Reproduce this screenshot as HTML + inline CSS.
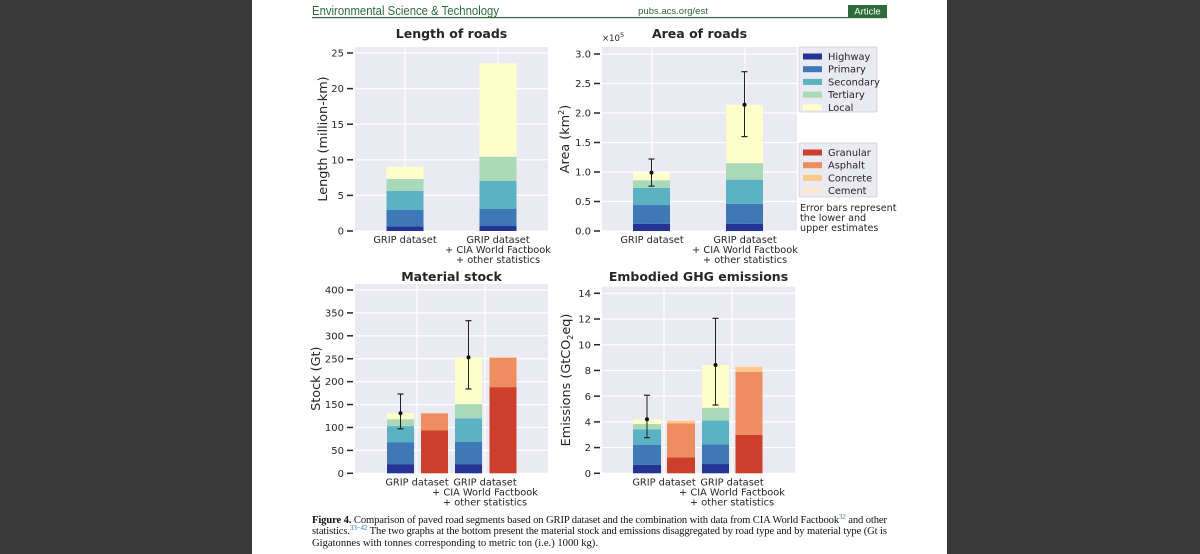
<!DOCTYPE html>
<html><head><meta charset="utf-8">
<style>
html,body{margin:0;padding:0;background:#383838;}
body{width:1200px;height:554px;overflow:hidden;position:relative;}
svg{position:absolute;left:0;top:0;}
text{font-family:"DejaVu Sans","Liberation Sans",sans-serif;fill:#262626;}
.cap{font-family:"Liberation Serif",serif;fill:#111;font-size:10.6px;}
</style></head>
<body>
<svg id="fig" width="1200" height="554" viewBox="0 0 1200 554">
<rect x="252" y="0" width="695" height="554" fill="#ffffff"/>
<text x="312" y="15" font-size="13" textLength="187" lengthAdjust="spacingAndGlyphs" style="fill:#2e6b3a;font-family:'Liberation Sans',sans-serif;font-weight:500">Environmental Science &amp; Technology</text>
<text x="673" y="14" font-size="9.5" text-anchor="middle" style="fill:#2e6b3a;font-family:'Liberation Sans',sans-serif">pubs.acs.org/est</text>
<rect x="312" y="17" width="575" height="1.2" fill="#2e6b3a"/>
<rect x="848" y="5" width="39" height="12" fill="#2e6b3a"/>
<text x="867.5" y="14.5" font-size="9.5" text-anchor="middle" style="fill:#fff;font-family:'Liberation Sans',sans-serif">Article</text>
<g id="charts"></g>
<text class="cap" x="312" y="523" textLength="575" lengthAdjust="spacing"><tspan font-weight="bold">Figure 4.</tspan> Comparison of paved road segments based on GRIP dataset and the combination with data from CIA World Factbook<tspan font-size="7" dy="-4" style="fill:#3a6fb0">32</tspan><tspan dy="4"> and other</tspan></text>
<text class="cap" x="312" y="534" textLength="575" lengthAdjust="spacing">statistics.<tspan font-size="7" dy="-4" style="fill:#3a6fb0">33−42</tspan><tspan dy="4"> The two graphs at the bottom present the material stock and emissions disaggregated by road type and by material type (Gt is</tspan></text>
<text class="cap" x="312" y="546">Gigatonnes with tonnes corresponding to metric ton (i.e.) 1000 kg).</text>
</svg>
<script>
// ---- data ----
const roadTypes = ['Highway','Primary','Secondary','Tertiary','Local'];
const materials = ['Granular','Asphalt','Concrete','Cement'];
const datasets = ['GRIP dataset','GRIP dataset\n+ CIA World Factbook\n+ other statistics'];
const lengthGrip = [0.65, 2.3, 2.7, 1.65, 1.73];
const lengthCia  = [0.7, 2.39, 3.93, 3.41, 13.12];
const areaGrip = [0.12, 0.32, 0.29, 0.13, 0.13];
const areaCia  = [0.12, 0.34, 0.41, 0.28, 0.99];
const areaErrLow  = [0.76, 1.60];
const areaErrHigh = [1.22, 2.70];
const stockTypeGrip = [20, 48, 35, 15, 13];
const stockTypeCia  = [20, 49, 51, 31, 102];
const stockMatGrip = [94, 37, 0.5, 0.2];
const stockMatCia  = [188, 64, 1.5, 0.3];
const stockErrLow  = [97, 184];
const stockErrHigh = [173, 333];
const ghgTypeGrip = [0.65, 1.55, 1.22, 0.41, 0.37];
const ghgTypeCia  = [0.72, 1.53, 1.85, 1.0, 3.32];
const ghgMatGrip = [1.24, 2.64, 0.21, 0.02];
const ghgMatCia  = [2.98, 4.92, 0.39, 0.03];
const ghgErrLow  = [2.77, 5.31];
const ghgErrHigh = [6.07, 12.05];
const lengthTicks = [0,5,10,15,20,25];
const areaTicks = ['0.0','0.5','1.0','1.5','2.0','2.5','3.0'];
const stockTicks = [0,50,100,150,200,250,300,350,400];
const ghgTicks = [0,2,4,6,8,10,12,14];

const typeColors = ['#253494','#3f78b6','#5bb2c3','#a9d9b8','#ffffcc'];
const matColors = ['#cc3f2c','#ee8d5f','#fcc98b','#fde8d0'];
const NS = 'http://www.w3.org/2000/svg';
const root = document.getElementById('charts');
function mk(tag, attrs, parent){const e=document.createElementNS(NS,tag);for(const k in attrs)e.setAttribute(k,attrs[k]);(parent||root).appendChild(e);return e;}

function chart(o){
  const g = mk('g',{});
  
  
  const y = v => o.y0 - (v - 0) * o.scale;
  const bg = mk('rect',{x:o.x0,y:o.top,width:o.x1-o.x0,height:o.y0-o.top,fill:'#eaeaf2'},g);
  
  
  o.ticks.forEach(t=>{
    const v = parseFloat(t); const yy = y(v);
    if (yy > o.top+1) mk('line',{x1:o.x0,x2:o.x1,y1:yy,y2:yy,stroke:'#fff','stroke-width':1.2},g);
    mk('line',{x1:o.x0-8,x2:o.x0-2,y1:yy,y2:yy,stroke:'#262626','stroke-width':1.5},g);
    const tl = mk('text',{x:o.x0-11,y:yy+3.6,'font-size':10,'text-anchor':'end'},g);
    tl.textContent = t;
    
    
  });
  o.groupX.forEach((cx,i)=>{
    mk('line',{x1:cx,x2:cx,y1:o.top,y2:o.y0,stroke:'#fff','stroke-width':1.2},g);
    datasets[i].split('\n').forEach((ln,j)=>{
      const t = mk('text',{x:cx,y:o.y0+12+j*10,'font-size':9.8,'text-anchor':'middle'},g);
      t.textContent = ln;
      
      
    });
  });
  o.bars.forEach(b=>{
    let acc = 0;
    b.vals.forEach((v,k)=>{
      const r = mk('rect',{x:b.cx-b.w/2,y:y(acc+v),width:b.w,height:Math.max(0,y(acc)-y(acc+v)),fill:b.colors[k]},g);
      
      
      acc += v;
    });
    if (b.err){
      const ex = b.cx;
      const l = mk('line',{x1:ex,x2:ex,y1:y(b.err[1]),y2:y(b.err[0]),stroke:'#222','stroke-width':1},g);
      
      
      [b.err[0],b.err[1]].forEach(v=>mk('line',{x1:ex-3,x2:ex+3,y1:y(v),y2:y(v),stroke:'#222','stroke-width':1.2},g));
      const c = mk('circle',{cx:ex,cy:y(acc),r:2,fill:'#111'},g);
      
      
    }
  });
  const ti = mk('text',{x:(o.x0+o.x1)/2,y:o.titleY,'font-size':12.5,'font-weight':'bold','text-anchor':'middle'},g);
  ti.textContent = o.title;
  
  
  const yl = mk('text',{x:0,y:0,'font-size':12.8,'text-anchor':'middle',transform:`translate(${o.ylabX},${(o.top+o.y0)/2}) rotate(-90)`},g);
  yl.innerHTML = o.ylabel;
  
  
  return g;
}

chart({name:'length-of-roads-chart',title:'Length of roads',x0:355,x1:548,top:47,y0:231,scale:7.12,titleY:38,
  ticks:lengthTicks.map(String),groupX:[405,498],ylabX:327,ylabel:'Length (million-km)',
  bars:[{cx:405,w:37,vals:lengthGrip,colors:typeColors,labels:roadTypes},
        {cx:498,w:37,vals:lengthCia,colors:typeColors,labels:roadTypes}]});
chart({name:'area-of-roads-chart',title:'Area of roads',x0:602,x1:797,top:47,y0:231,scale:59,titleY:38,
  ticks:areaTicks,groupX:[652,745],ylabX:569,ylabel:'Area (km<tspan font-size="8" dy="-5">2</tspan><tspan dy="5">)</tspan>',
  bars:[{cx:651.5,w:37,vals:areaGrip,colors:typeColors,labels:roadTypes,err:[areaErrLow[0],areaErrHigh[0]]},
        {cx:744.5,w:37,vals:areaCia,colors:typeColors,labels:roadTypes,err:[areaErrLow[1],areaErrHigh[1]]}]});
chart({name:'material-stock-chart',title:'Material stock',x0:355,x1:548,top:284,y0:473.3,scale:0.4583,titleY:281,
  ticks:stockTicks.map(String),groupX:[417,485],ylabX:320,ylabel:'Stock (Gt)',
  bars:[{cx:400.5,w:27,vals:stockTypeGrip,colors:typeColors,labels:roadTypes,err:[stockErrLow[0],stockErrHigh[0]]},
        {cx:434.5,w:27,vals:stockMatGrip,colors:matColors,labels:materials},
        {cx:468.5,w:27,vals:stockTypeCia,colors:typeColors,labels:roadTypes,err:[stockErrLow[1],stockErrHigh[1]]},
        {cx:503,w:27,vals:stockMatCia,colors:matColors,labels:materials}]});
chart({name:'embodied-ghg-chart',title:'Embodied GHG emissions',x0:602,x1:795,top:286.7,y0:473.3,scale:12.857,titleY:281,
  ticks:ghgTicks.map(String),groupX:[664,732],ylabX:570,ylabel:'Emissions (GtCO<tspan font-size="8" dy="3">2</tspan><tspan dy="-3">eq)</tspan>',
  bars:[{cx:647,w:28,vals:ghgTypeGrip,colors:typeColors,labels:roadTypes,err:[ghgErrLow[0],ghgErrHigh[0]]},
        {cx:681,w:28,vals:ghgMatGrip,colors:matColors,labels:materials},
        {cx:715.5,w:27,vals:ghgTypeCia,colors:typeColors,labels:roadTypes,err:[ghgErrLow[1],ghgErrHigh[1]]},
        {cx:749,w:27,vals:ghgMatCia,colors:matColors,labels:materials}]});

function legend(name, y0, h, labels, colors){
  const g = mk('g',{});
  
  
  mk('rect',{x:799,y:y0,width:78,height:h,fill:'#eaeaf2',stroke:'#cfcfd6','stroke-width':0.8,rx:1.5},g);
  labels.forEach((l,i)=>{
    const yy = y0+6+i*12.7;
    const p = mk('rect',{x:803,y:yy+0.5,width:19,height:6,fill:colors[i]},g);
    
    
    const t = mk('text',{x:828,y:yy+7,'font-size':9.8},g);
    t.textContent = l;
    
    
  });
}
legend('road-type-legend',47,65,roadTypes,typeColors);
legend('material-legend',143,54,materials,matColors);
['Error bars represent','the lower and','upper estimates'].forEach((s,i)=>{
  const t = mk('text',{x:800,y:211+i*10,'font-size':9.6});
  t.textContent = s;
  
  
});
const ex = mk('text',{x:602,y:41,'font-size':8.5});
ex.innerHTML = '×10<tspan font-size="6.5" dy="-4">5</tspan>';


</script>
</body></html>
